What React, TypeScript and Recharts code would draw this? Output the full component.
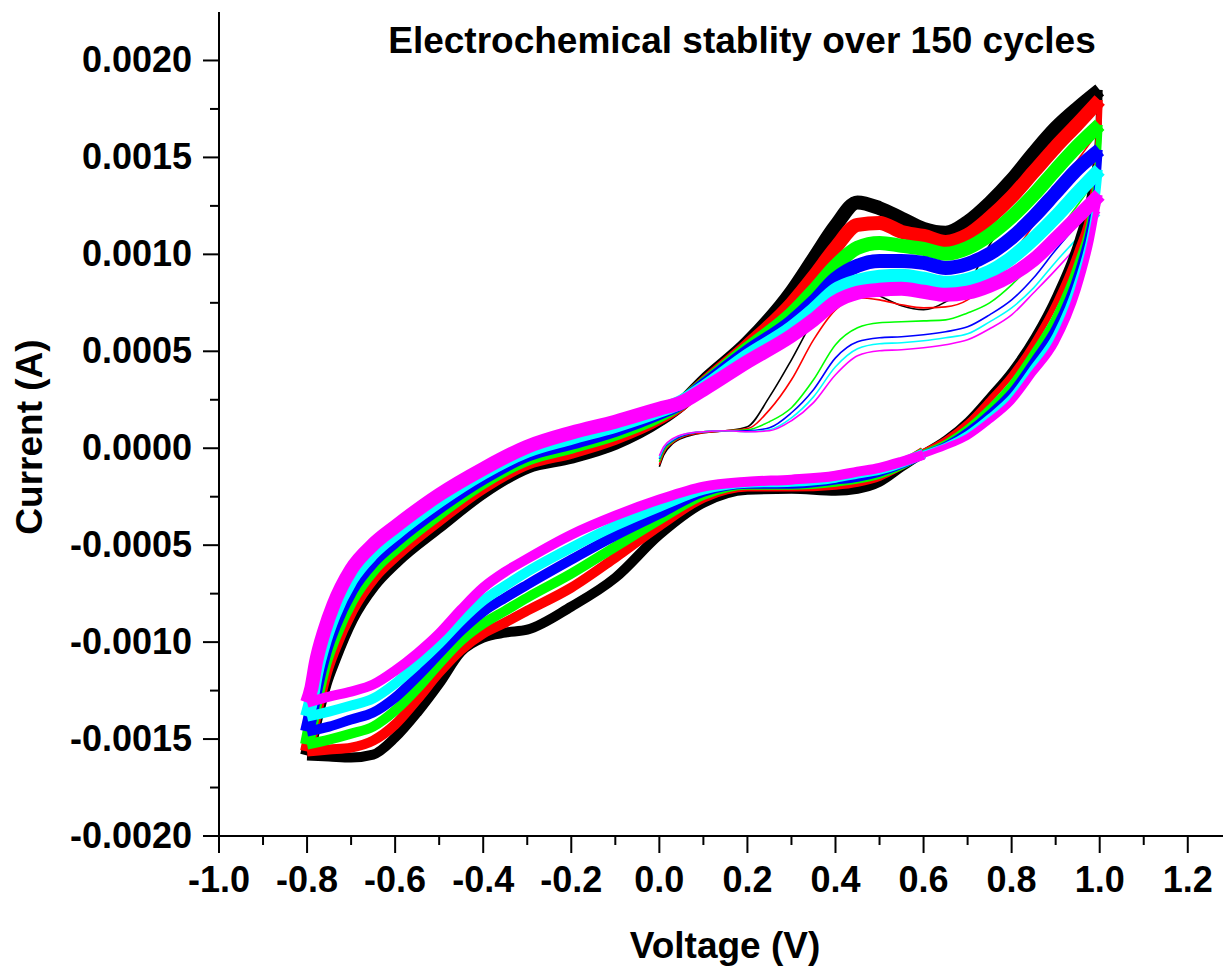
import { LineChart, Line, XAxis, YAxis } from "recharts";

// potential grids (V)
const upperV = [-0.8, -0.79, -0.78, -0.76, -0.74, -0.7, -0.65, -0.6, -0.5, -0.4, -0.3, -0.2, -0.1, 0.0, 0.05, 0.1, 0.2, 0.3, 0.35, 0.4, 0.45, 0.5, 0.55, 0.6, 0.65, 0.7, 0.75, 0.8, 0.85, 0.9, 0.95, 1.0];
const lowerV = [-0.8, -0.75, -0.7, -0.65, -0.6, -0.55, -0.5, -0.45, -0.4, -0.35, -0.3, -0.2, -0.1, 0.0, 0.1, 0.2, 0.3, 0.4, 0.45, 0.5, 0.55, 0.6, 0.65, 0.7, 0.75, 0.8, 0.85, 0.9, 0.95, 0.98, 0.995, 1.0];
const firstV = [0.0, 0.01, 0.03, 0.06, 0.1, 0.15, 0.2, 0.25, 0.3, 0.35, 0.4, 0.45, 0.5, 0.55, 0.6, 0.65, 0.7, 0.75, 0.8, 0.85, 0.9, 0.95, 1.0];

// anodic (forward) sweep current, A
const blackUp = [-0.001585, -0.001492, -0.001389, -0.001214, -0.00109, -0.000879, -0.000704, -0.000585, -0.0004, -0.000224, -0.000095, -0.000044, 0.000028, 0.000147, 0.000229, 0.000343, 0.000544, 0.000807, 0.000977, 0.001147, 0.001268, 0.001238, 0.001185, 0.001131, 0.001111, 0.001167, 0.001265, 0.001384, 0.001523, 0.001652, 0.001755, 0.001848];
const redUp = [-0.001564, -0.001456, -0.001348, -0.001162, -0.001033, -0.000832, -0.000662, -0.000549, -0.000363, -0.000198, -0.000075, -0.000018, 0.000054, 0.000157, 0.000229, 0.000332, 0.000528, 0.000745, 0.000884, 0.001034, 0.001152, 0.001162, 0.001116, 0.001095, 0.001064, 0.0011, 0.001188, 0.001296, 0.001425, 0.001554, 0.001673, 0.001796];
const greenUp = [-0.001528, -0.00141, -0.001296, -0.001106, -0.000977, -0.000781, -0.000621, -0.000513, -0.000332, -0.000173, -0.000054, 0.000008, 0.000075, 0.000168, 0.000235, 0.000327, 0.000513, 0.000693, 0.000812, 0.000941, 0.001034, 0.001059, 0.001044, 0.001028, 0.001003, 0.001033, 0.0011, 0.001193, 0.001307, 0.001436, 0.001559, 0.001668];
const blueUp = [-0.001461, -0.001358, -0.001235, -0.001049, -0.00092, -0.000729, -0.00058, -0.000477, -0.000302, -0.000152, -0.000034, 0.000028, 0.000095, 0.000183, 0.000235, 0.000322, 0.000497, 0.000652, 0.000755, 0.000874, 0.000941, 0.000966, 0.000966, 0.000956, 0.00093, 0.000951, 0.001003, 0.001085, 0.001193, 0.001317, 0.001441, 0.001539];
const cyanUp = [-0.001384, -0.001296, -0.001168, -0.000992, -0.000863, -0.000678, -0.000539, -0.000441, -0.000271, -0.000126, -0.000013, 0.000054, 0.000116, 0.000193, 0.00024, 0.000312, 0.000477, 0.000621, 0.000714, 0.000817, 0.000863, 0.000884, 0.000889, 0.000874, 0.000853, 0.000869, 0.00091, 0.000982, 0.00108, 0.001193, 0.001317, 0.001436];
const magentaUp = [-0.001312, -0.001235, -0.001106, -0.000936, -0.000807, -0.000626, -0.000497, -0.000405, -0.00024, -0.000106, 0.000008, 0.00008, 0.000137, 0.000204, 0.000236, 0.000302, 0.000446, 0.00058, 0.000662, 0.000755, 0.000802, 0.000817, 0.000822, 0.000807, 0.000791, 0.000802, 0.000838, 0.000894, 0.000972, 0.00108, 0.001193, 0.001307];

// cathodic (reverse) sweep current, A
const blackDown = [-0.001585, -0.00159, -0.001595, -0.00158, -0.001492, -0.001363, -0.001214, -0.001049, -0.000977, -0.000951, -0.000936, -0.000817, -0.000668, -0.000446, -0.000281, -0.000214, -0.000209, -0.000219, -0.000209, -0.000173, -0.000095, -0.00002, 0.00005, 0.000145, 0.000271, 0.000405, 0.000575, 0.000791, 0.001075, 0.001332, 0.001564, 0.001848];
const redDown = [-0.001564, -0.001554, -0.001544, -0.001508, -0.001425, -0.001296, -0.001157, -0.001039, -0.000956, -0.000899, -0.000838, -0.000719, -0.000564, -0.0004, -0.000255, -0.000198, -0.000198, -0.000188, -0.000173, -0.000142, -0.000085, -0.000018, 0.000044, 0.000131, 0.00025, 0.000379, 0.000544, 0.00075, 0.001023, 0.001255, 0.001513, 0.001796];
const greenDown = [-0.001528, -0.001503, -0.001472, -0.001436, -0.001353, -0.00124, -0.001111, -0.000992, -0.000905, -0.000838, -0.000771, -0.000647, -0.000508, -0.000369, -0.00024, -0.000188, -0.000188, -0.000173, -0.000157, -0.000131, -0.000085, -0.000023, 0.000028, 0.000106, 0.000209, 0.000332, 0.000497, 0.000683, 0.000961, 0.001204, 0.001461, 0.001668];
const blueDown = [-0.001461, -0.001436, -0.001399, -0.001363, -0.001286, -0.001178, -0.001059, -0.000941, -0.000843, -0.000771, -0.000704, -0.000575, -0.000451, -0.000338, -0.000224, -0.000183, -0.000183, -0.000162, -0.000147, -0.000121, -0.00008, -0.000028, 0.000018, 0.00009, 0.000183, 0.000296, 0.000456, 0.000631, 0.00091, 0.001168, 0.001384, 0.001539];
const cyanDown = [-0.001384, -0.001358, -0.001327, -0.001291, -0.001214, -0.001116, -0.001008, -0.000889, -0.000786, -0.000709, -0.000637, -0.000513, -0.0004, -0.000302, -0.000214, -0.000178, -0.000173, -0.000152, -0.000131, -0.000111, -0.000075, -0.000028, 0.000013, 0.000075, 0.000162, 0.000265, 0.00042, 0.000585, 0.000863, 0.001116, 0.001322, 0.001436];
const magentaDown = [-0.001312, -0.001281, -0.001255, -0.001219, -0.001147, -0.001059, -0.000956, -0.000832, -0.000719, -0.000637, -0.00057, -0.000446, -0.000348, -0.000265, -0.000198, -0.000173, -0.000162, -0.000142, -0.000121, -0.000101, -0.00007, -0.000034, 0.000008, 0.000059, 0.000142, 0.00024, 0.000389, 0.000544, 0.000817, 0.001075, 0.001255, 0.001307];

// first forward scan starting at 0 V, A
const blackFirst = [-0.000095, -0.000034, 0.000023, 0.000059, 0.00008, 0.00009, 0.000111, 0.000265, 0.000456, 0.000662, 0.000812, 0.000838, 0.000786, 0.000735, 0.000714, 0.000755, 0.000843, 0.001049, 0.001204, 0.001332, 0.001436, 0.001539, 0.001642];
const redFirst = [-0.000085, -0.000023, 0.000028, 0.000064, 0.00008, 0.00009, 0.000101, 0.000198, 0.000353, 0.000559, 0.000714, 0.000776, 0.000765, 0.00074, 0.000724, 0.000729, 0.000765, 0.000869, 0.000997, 0.001152, 0.001332, 0.001487, 0.001642];
const greenFirst = [-0.00007, -0.000013, 0.000034, 0.00007, 0.000085, 0.00009, 0.000095, 0.000137, 0.000209, 0.000353, 0.000534, 0.000621, 0.000647, 0.000652, 0.000657, 0.000662, 0.000698, 0.00075, 0.000843, 0.000961, 0.001101, 0.001255, 0.00141];
const blueFirst = [-0.000054, -0.000003, 0.000039, 0.00007, 0.000085, 0.00009, 0.00009, 0.000106, 0.000183, 0.000302, 0.000466, 0.000549, 0.00057, 0.000575, 0.000585, 0.000601, 0.000626, 0.000688, 0.000765, 0.000879, 0.001023, 0.001152, 0.001255];
const cyanFirst = [-0.000049, 0.000003, 0.000044, 0.000075, 0.000085, 0.00009, 0.000085, 0.000095, 0.000157, 0.000265, 0.00042, 0.000513, 0.000539, 0.000544, 0.000554, 0.00057, 0.00059, 0.000652, 0.000724, 0.000827, 0.000961, 0.001085, 0.001204];
const magentaFirst = [-0.000039, 0.000008, 0.000049, 0.000075, 0.000085, 0.00009, 0.000085, 0.00009, 0.000142, 0.000235, 0.000379, 0.000477, 0.000503, 0.000508, 0.000518, 0.000534, 0.000559, 0.000616, 0.000688, 0.000802, 0.00092, 0.001049, 0.001219];

// axis ticks
const xMajor = [-1.0, -0.8, -0.6, -0.4, -0.2, 0.0, 0.2, 0.4, 0.6, 0.8, 1.0, 1.2];
const xMinor = [-0.9, -0.7, -0.5, -0.3, -0.1, 0.1, 0.3, 0.5, 0.7, 0.9, 1.1];
const yMajor = [-0.002, -0.0015, -0.001, -0.0005, 0, 0.0005, 0.001, 0.0015, 0.002];
const yMinor = [-0.00175, -0.00125, -0.00075, -0.00025, 0.00025, 0.00075, 0.00125, 0.00175];

const FONT = '"Liberation Sans", Arial, Helvetica, sans-serif';

const toPoints = (vs: number[], is: number[]) => vs.map((v, k) => ({ v, i: is[k] }));

// reverse sweep is split where the steep return towards 1.0 V starts
const SPLIT = lowerV.indexOf(0.6);

const groups = [
  { key: "black", color: "#000000", up: blackUp, down: blackDown, first: blackFirst },
  { key: "red", color: "#ff0000", up: redUp, down: redDown, first: redFirst },
  { key: "green", color: "#00ff00", up: greenUp, down: greenDown, first: greenFirst },
  { key: "blue", color: "#0000ff", up: blueUp, down: blueDown, first: blueFirst },
  { key: "cyan", color: "#00ffff", up: cyanUp, down: cyanDown, first: cyanFirst },
  { key: "magenta", color: "#ff00ff", up: magentaUp, down: magentaDown, first: magentaFirst },
];

const isIn = (list: number[], value: number) => list.some((m) => Math.abs(m - value) < 1e-9);

function XTick(props: any) {
  const { x, y, payload } = props;
  const major = isIn(xMajor, payload.value);
  return (
    <g>
      <line x1={x} y1={y} x2={x} y2={y + (major ? 17 : 9)} stroke="#000" strokeWidth={2} />
      {major && (
        <text x={x} y={y + 56} textAnchor="middle" fontSize={36} fontWeight="bold" fontFamily={FONT} fill="#000">
          {payload.value.toFixed(1)}
        </text>
      )}
    </g>
  );
}

function YTick(props: any) {
  const { x, y, payload } = props;
  const major = isIn(yMajor, payload.value);
  return (
    <g>
      <line x1={x - (major ? 16 : 9)} y1={y} x2={x} y2={y} stroke="#000" strokeWidth={2} />
      {major && (
        <text x={x - 27} y={y + 12} textAnchor="end" fontSize={36} fontWeight="bold" fontFamily={FONT} fill="#000">
          {payload.value.toFixed(4)}
        </text>
      )}
    </g>
  );
}

export default function App() {
  const xTicks = [...xMajor, ...xMinor].sort((a, b) => a - b);
  const yTicks = [...yMajor, ...yMinor].sort((a, b) => a - b);

  const lineProps = {
    dataKey: "i",
    type: "monotone" as const,
    dot: false,
    activeDot: false,
    strokeLinejoin: "round" as const,
    isAnimationActive: false,
  };

  return (
    <div style={{ position: "absolute", left: 0, top: 0, width: 1223, height: 968, background: "#fff" }}>
      <LineChart width={1223} height={968} margin={{ top: 12, right: 0, bottom: 0, left: 0 }}>
        <XAxis
          dataKey="v"
          type="number"
          domain={[-1, 1.28]}
          allowDataOverflow
          ticks={xTicks}
          interval={0}
          height={132}
          tickSize={0}
          tickMargin={0}
          tickLine={false}
          tick={<XTick />}
          axisLine={{ stroke: "#000", strokeWidth: 2 }}
        />
        <XAxis
          xAxisId="top"
          dataKey="v"
          orientation="top"
          type="number"
          domain={[-1, 1.28]}
          allowDataOverflow
          height={0}
          tick={false}
          tickLine={false}
          axisLine={{ stroke: "#000", strokeWidth: 2 }}
        />
        <YAxis
          type="number"
          domain={[-0.002, 0.00225]}
          allowDataOverflow
          ticks={yTicks}
          interval={0}
          width={219}
          tickSize={0}
          tickMargin={0}
          tickLine={false}
          tick={<YTick />}
          axisLine={{ stroke: "#000", strokeWidth: 2 }}
        />
        {groups.map((g) => (
          <Line key={g.key + "-first"} data={toPoints(firstV, g.first)} stroke={g.color} strokeWidth={1.6} {...lineProps} />
        ))}
        {groups.flatMap((g) => [
          <Line key={g.key + "-up"} data={toPoints(upperV, g.up)} stroke={g.color} strokeWidth={14} {...lineProps} />,
          <Line
            key={g.key + "-down"}
            data={toPoints(lowerV.slice(0, SPLIT + 1), g.down.slice(0, SPLIT + 1))}
            stroke={g.color}
            strokeWidth={10}
            {...lineProps}
          />,
          <Line
            key={g.key + "-return"}
            data={toPoints(lowerV.slice(SPLIT), g.down.slice(SPLIT))}
            stroke={g.color}
            strokeWidth={6}
            {...lineProps}
          />,
        ])}
      </LineChart>
      <svg width={1223} height={968} style={{ position: "absolute", left: 0, top: 0, pointerEvents: "none" }}>
        <text x={742} y={53} textAnchor="middle" fontSize={37} fontWeight="bold" fontFamily={FONT} fill="#000">
          Electrochemical stablity over 150 cycles
        </text>
        <text x={725} y={958} textAnchor="middle" fontSize={37} fontWeight="bold" fontFamily={FONT} fill="#000">
          Voltage (V)
        </text>
        <text
          x={42}
          y={437}
          textAnchor="middle"
          fontSize={37}
          fontWeight="bold"
          fontFamily={FONT}
          fill="#000"
          transform="rotate(-90 42 437)"
        >
          Current (A)
        </text>
      </svg>
    </div>
  );
}
